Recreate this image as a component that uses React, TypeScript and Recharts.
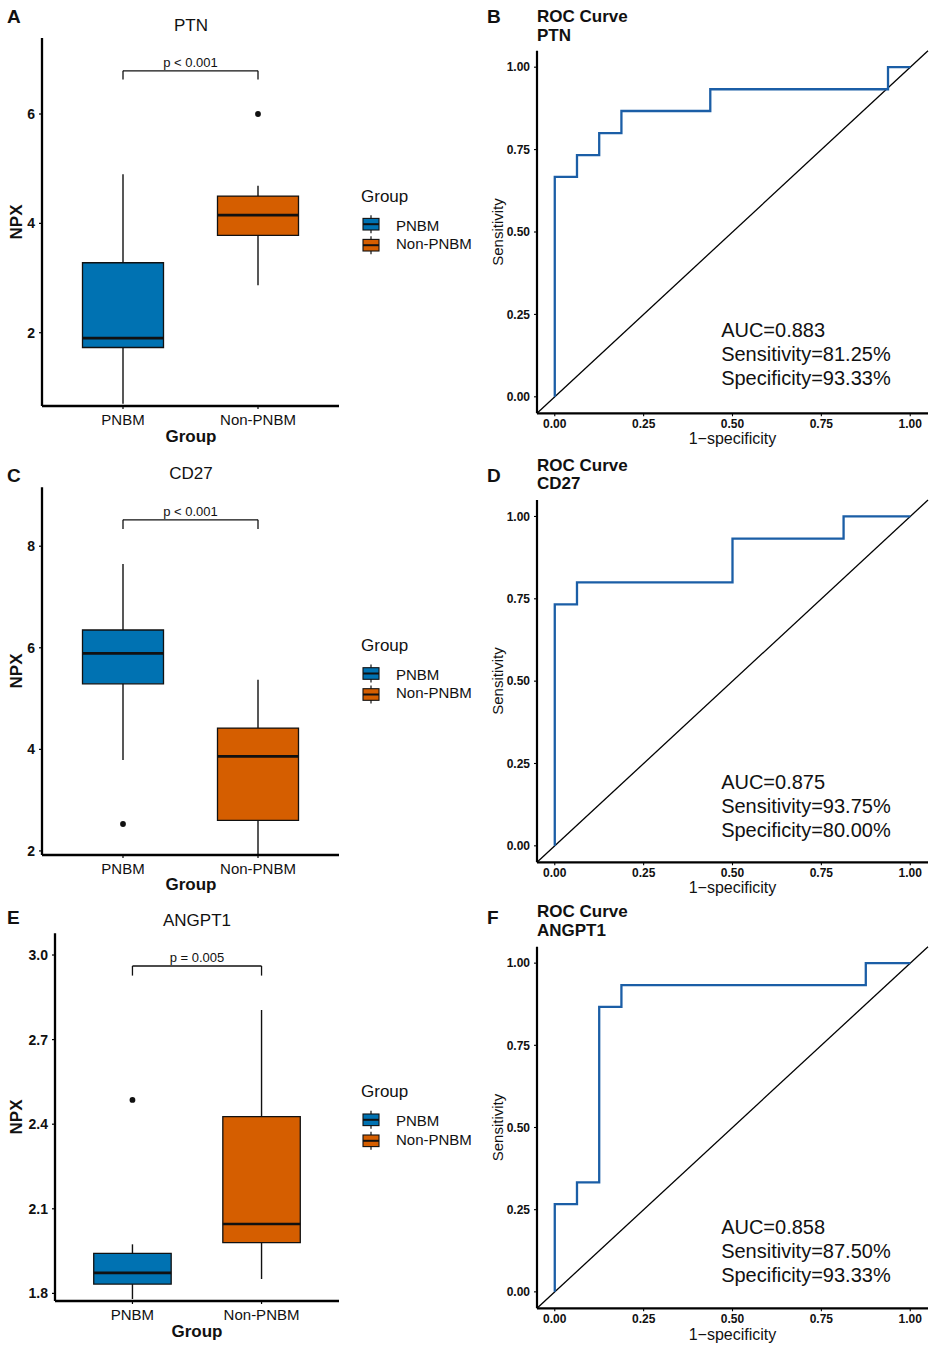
import React from 'react';
import {
  ComposedChart,
  XAxis,
  YAxis,
  Scatter,
  Line,
  ReferenceArea,
  ReferenceLine,
  ReferenceDot,
} from 'recharts';

const FONT = '"Liberation Sans", Arial, Helvetica, sans-serif';
const BLUE = '#0072B2';
const ORANGE = '#D55E00';
const ROC_BLUE = '#1B5EA6';
const INK = '#111111';

// ---------- categories ----------
const groups = ['PNBM', 'Non-PNBM'];
const groupPos = [1, 2];

// ---------- box statistics: [min, q1, median, q3, max] ----------
const ptnPNBM = [0.7, 1.73, 1.9, 3.28, 4.9];
const ptnNon = [2.87, 3.78, 4.15, 4.5, 4.69];
const ptnOutliers = [{ x: 2, y: 6.0 }];
const ptnTicks = [2, 4, 6];

const cd27PNBM = [3.79, 5.29, 5.89, 6.35, 7.65];
const cd27Non = [1.93, 2.6, 3.86, 4.42, 5.37];
const cd27Outliers = [{ x: 1, y: 2.53 }];
const cd27Ticks = [2, 4, 6, 8];

const angPNBM = [1.78, 1.833, 1.873, 1.942, 1.974];
const angNon = [1.851, 1.98, 2.046, 2.427, 2.805];
const angOutliers = [{ x: 1, y: 2.486 }];
const angTicks = [1.8, 2.1, 2.4, 2.7, 3.0];

// ---------- ROC curves ----------
const ptnFpr = [0, 0, 0.0625, 0.0625, 0.125, 0.125, 0.1875, 0.1875, 0.4375, 0.4375, 0.9375, 0.9375, 1];
const ptnTpr = [0, 0.667, 0.667, 0.733, 0.733, 0.8, 0.8, 0.867, 0.867, 0.933, 0.933, 1, 1];

const cd27Fpr = [0, 0, 0.0625, 0.0625, 0.5, 0.5, 0.8125, 0.8125, 1];
const cd27Tpr = [0, 0.733, 0.733, 0.8, 0.8, 0.933, 0.933, 1, 1];

const angFpr = [0, 0, 0.0625, 0.0625, 0.125, 0.125, 0.1875, 0.1875, 0.875, 0.875, 1];
const angTpr = [0, 0.267, 0.267, 0.333, 0.333, 0.867, 0.867, 0.933, 0.933, 1, 1];

const rocTicks = [0, 0.25, 0.5, 0.75, 1];

const ptnAuc = ['AUC=0.883', 'Sensitivity=81.25%', 'Specificity=93.33%'];
const cd27Auc = ['AUC=0.875', 'Sensitivity=93.75%', 'Specificity=80.00%'];
const angAuc = ['AUC=0.858', 'Sensitivity=87.50%', 'Specificity=93.33%'];

const BOX_HALF = 0.3;

function boxElements(stats: number[], pos: number, fill: string, key: string) {
  const [mn, q1, md, q3, mx] = stats;
  return [
    <ReferenceLine
      key={key + 'wu'}
      segment={[{ x: pos, y: q3 }, { x: pos, y: mx }]}
      stroke={INK}
      strokeWidth={1.4}
      ifOverflow="visible"
    />,
    <ReferenceLine
      key={key + 'wl'}
      segment={[{ x: pos, y: mn }, { x: pos, y: q1 }]}
      stroke={INK}
      strokeWidth={1.4}
      ifOverflow="visible"
    />,
    <ReferenceArea
      key={key + 'box'}
      x1={pos - BOX_HALF}
      x2={pos + BOX_HALF}
      y1={q1}
      y2={q3}
      fill={fill}
      fillOpacity={1}
      stroke={INK}
      strokeWidth={1.3}
      ifOverflow="visible"
    />,
    <ReferenceLine
      key={key + 'med'}
      segment={[{ x: pos - BOX_HALF, y: md }, { x: pos + BOX_HALF, y: md }]}
      stroke={INK}
      strokeWidth={2.7}
      ifOverflow="visible"
    />,
  ];
}

function bracketElements(y: number, tip: number, label: string, key: string) {
  return [
    <ReferenceLine key={key + 'h'} segment={[{ x: 1, y }, { x: 2, y }]} stroke={INK} strokeWidth={1.3} ifOverflow="visible" />,
    <ReferenceLine key={key + 'l'} segment={[{ x: 1, y }, { x: 1, y: tip }]} stroke={INK} strokeWidth={1.3} ifOverflow="visible" />,
    <ReferenceLine key={key + 'r'} segment={[{ x: 2, y }, { x: 2, y: tip }]} stroke={INK} strokeWidth={1.3} ifOverflow="visible" />,
    <ReferenceDot
      key={key + 't'}
      x={1.5}
      y={y}
      r={0}
      fill="none"
      stroke="none"
      ifOverflow="visible"
      label={{ value: label, position: 'top', offset: 4, fontSize: 13, fill: INK, fontFamily: FONT }}
    />,
  ];
}

type BoxProps = {
  top: number;
  height: number;
  marginTop: number;
  yAxisWidth: number;
  xAxisHeight: number;
  pnbm: number[];
  non: number[];
  outliers: { x: number; y: number }[];
  domain: [number, number];
  ticks: number[];
  bracket: [number, number, string];
  id: string;
};

function BoxChart(p: BoxProps) {
  return (
    <div style={{ position: 'absolute', left: 0, top: p.top }}>
      <ComposedChart
        width={345}
        height={p.height}
        margin={{ top: p.marginTop, right: 6, bottom: 0, left: 0 }}
      >
        <XAxis
          type="number"
          dataKey="x"
          domain={[0.4, 2.6]}
          allowDataOverflow
          ticks={groupPos}
          interval={0}
          tickFormatter={(v: number) => groups[Math.round(v) - 1] ?? ''}
          height={p.xAxisHeight}
          tickSize={3}
          tickMargin={5}
          axisLine={{ stroke: '#000', strokeWidth: 2.3 }}
          tickLine={{ stroke: '#000', strokeWidth: 1.2 }}
          tick={{ fontSize: 15, fill: INK, fontFamily: FONT }}
        />
        <YAxis
          type="number"
          dataKey="y"
          domain={p.domain}
          allowDataOverflow
          ticks={p.ticks}
          interval={0}
          tickFormatter={(v: number) => (p.id === 'ang' ? v.toFixed(1) : String(v))}
          width={p.yAxisWidth}
          tickSize={3}
          tickMargin={4}
          axisLine={{ stroke: '#000', strokeWidth: 2.3 }}
          tickLine={{ stroke: '#000', strokeWidth: 1.2 }}
          tick={{ fontSize: 14, fontWeight: 'bold', fill: INK, fontFamily: FONT }}
        />
        {boxElements(p.pnbm, 1, BLUE, p.id + 'a')}
        {boxElements(p.non, 2, ORANGE, p.id + 'b')}
        {bracketElements(p.bracket[0], p.bracket[1], p.bracket[2], p.id + 'br')}
        <Scatter
          data={p.outliers}
          dataKey="y"
          isAnimationActive={false}
          shape={(s: any) => <circle cx={s.cx} cy={s.cy} r={2.9} fill={INK} />}
        />
      </ComposedChart>
    </div>
  );
}

type RocProps = {
  top: number;
  height: number;
  marginTop: number;
  xAxisHeight: number;
  fpr: number[];
  tpr: number[];
  auc: string[];
  aucY: number;
};

function RocChart(p: RocProps) {
  const data = p.fpr.map((f, i) => ({ fpr: f, tpr: p.tpr[i] }));
  const aucContent = (props: any) => {
    const vb = props.viewBox || {};
    const x = vb.x ?? 0;
    const y = vb.y ?? 0;
    return (
      <text x={x} y={y} fontSize={20} fill={INK} fontFamily={FONT}>
        {p.auc.map((l, i) => (
          <tspan key={i} x={x} dy={i === 0 ? 0 : 24}>
            {l}
          </tspan>
        ))}
      </text>
    );
  };
  return (
    <div style={{ position: 'absolute', left: 480, top: p.top }}>
      <ComposedChart
        width={455}
        height={p.height}
        data={data}
        margin={{ top: p.marginTop, right: 7, bottom: 0, left: 0 }}
      >
        <XAxis
          type="number"
          dataKey="fpr"
          domain={[-0.05, 1.05]}
          allowDataOverflow
          ticks={rocTicks}
          interval={0}
          tickFormatter={(v: number) => v.toFixed(2)}
          height={p.xAxisHeight}
          tickSize={3}
          tickMargin={3}
          axisLine={{ stroke: '#000', strokeWidth: 2.2 }}
          tickLine={{ stroke: '#000', strokeWidth: 1.1 }}
          tick={{ fontSize: 12, fontWeight: 'bold', fill: INK, fontFamily: FONT }}
        />
        <YAxis
          type="number"
          domain={[-0.05, 1.05]}
          allowDataOverflow
          ticks={rocTicks}
          interval={0}
          tickFormatter={(v: number) => v.toFixed(2)}
          width={57}
          tickSize={3}
          tickMargin={4}
          axisLine={{ stroke: '#000', strokeWidth: 2.2 }}
          tickLine={{ stroke: '#000', strokeWidth: 1.1 }}
          tick={{ fontSize: 12, fontWeight: 'bold', fill: INK, fontFamily: FONT }}
        />
        <ReferenceLine
          segment={[{ x: -0.05, y: -0.05 }, { x: 1.05, y: 1.05 }]}
          stroke="#000"
          strokeWidth={1.3}
          ifOverflow="visible"
        />
        <Line
          type="linear"
          dataKey="tpr"
          stroke={ROC_BLUE}
          strokeWidth={2.3}
          dot={false}
          activeDot={false}
          isAnimationActive={false}
        />
        <ReferenceDot
          x={0.468}
          y={p.aucY}
          r={0}
          fill="none"
          stroke="none"
          ifOverflow="visible"
          label={aucContent}
        />
      </ComposedChart>
    </div>
  );
}

function LegendBlock({ y }: { y: number }) {
  const keys = [
    { c: BLUE, label: groups[0], cy: y + 22.5, ly: y + 28.8 },
    { c: ORANGE, label: groups[1], cy: y + 43.5, ly: y + 47.2 },
  ];
  return (
    <g>
      <text x={361} y={y} fontSize={17} fill={INK} fontFamily={FONT}>
        Group
      </text>
      {keys.map((k) => (
        <g key={k.label}>
          <line x1={371} x2={371} y1={k.cy - 9} y2={k.cy + 9} stroke={INK} strokeWidth={1.2} />
          <rect x={363} y={k.cy - 5.8} width={16} height={11.6} fill={k.c} stroke={INK} strokeWidth={1.1} />
          <line x1={363} x2={379} y1={k.cy} y2={k.cy} stroke={INK} strokeWidth={2} />
          <text x={396} y={k.ly} fontSize={15} fill={INK} fontFamily={FONT}>
            {k.label}
          </text>
        </g>
      ))}
    </g>
  );
}

function Overlay() {
  const letter = (t: string, x: number, y: number) => (
    <text x={x} y={y} fontSize={19} fontWeight="bold" fill={INK} fontFamily={FONT}>
      {t}
    </text>
  );
  const boxTitle = (t: string, x: number, y: number) => (
    <text x={x} y={y} fontSize={17} textAnchor="middle" fill={INK} fontFamily={FONT}>
      {t}
    </text>
  );
  const boldMid = (t: string, x: number, y: number) => (
    <text x={x} y={y} fontSize={17} fontWeight="bold" textAnchor="middle" fill={INK} fontFamily={FONT}>
      {t}
    </text>
  );
  const npx = (cy: number) => (
    <text
      x={21.5}
      y={cy}
      transform={`rotate(-90 21.5 ${cy})`}
      fontSize={17}
      fontWeight="bold"
      textAnchor="middle"
      fill={INK}
      fontFamily={FONT}
    >
      NPX
    </text>
  );
  const rocTitle = (name: string, y1: number, y2: number) => (
    <g>
      <text x={537} y={y1} fontSize={17} fontWeight="bold" fill={INK} fontFamily={FONT}>
        ROC Curve
      </text>
      <text x={537} y={y2} fontSize={17} fontWeight="bold" fill={INK} fontFamily={FONT}>
        {name}
      </text>
    </g>
  );
  const xTitle = (y: number) => (
    <text x={732.5} y={y} fontSize={16} textAnchor="middle" fill={INK} fontFamily={FONT}>
      1−specificity
    </text>
  );
  const sens = (cy: number) => (
    <text
      x={503}
      y={cy}
      transform={`rotate(-90 503 ${cy})`}
      fontSize={15}
      textAnchor="middle"
      fill={INK}
      fontFamily={FONT}
    >
      Sensitivity
    </text>
  );
  return (
    <svg
      width={935}
      height={1349}
      style={{ position: 'absolute', left: 0, top: 0, pointerEvents: 'none' }}
    >
      {letter('A', 7, 23)}
      {letter('B', 487, 23)}
      {letter('C', 7, 481.7)}
      {letter('D', 487, 481.7)}
      {letter('E', 7, 924)}
      {letter('F', 487, 924)}

      {boxTitle('PTN', 191, 30.7)}
      {boxTitle('CD27', 191, 479.3)}
      {boxTitle('ANGPT1', 197, 926)}

      {boldMid('Group', 191, 441.7)}
      {boldMid('Group', 191, 890)}
      {boldMid('Group', 197, 1336.7)}

      {npx(222)}
      {npx(671)}
      {npx(1117)}

      <LegendBlock y={201.7} />
      <LegendBlock y={651} />
      <LegendBlock y={1097.3} />

      {rocTitle('PTN', 22, 40.7)}
      {rocTitle('CD27', 470.7, 489.3)}
      {rocTitle('ANGPT1', 917.3, 936)}

      {xTitle(444)}
      {xTitle(893)}
      {xTitle(1340)}

      {sens(232)}
      {sens(681)}
      {sens(1127.5)}
    </svg>
  );
}

export default function App() {
  return (
    <div
      style={{
        position: 'absolute',
        left: 0,
        top: 0,
        width: 935,
        height: 1349,
        background: '#ffffff',
        overflow: 'hidden',
        fontFamily: FONT,
      }}
    >
      <BoxChart
        id="ptn"
        top={0}
        height={450}
        marginTop={38}
        yAxisWidth={42}
        xAxisHeight={44}
        pnbm={ptnPNBM}
        non={ptnNon}
        outliers={ptnOutliers}
        domain={[0.66, 7.39]}
        ticks={ptnTicks}
        bracket={[6.79, 6.63, 'p < 0.001']}
      />
      <BoxChart
        id="cd27"
        top={450}
        height={450}
        marginTop={37.3}
        yAxisWidth={42}
        xAxisHeight={45}
        pnbm={cd27PNBM}
        non={cd27Non}
        outliers={cd27Outliers}
        domain={[1.92, 9.16]}
        ticks={cd27Ticks}
        bracket={[8.52, 8.34, 'p < 0.001']}
      />
      <BoxChart
        id="ang"
        top={900}
        height={449}
        marginTop={33.3}
        yAxisWidth={55}
        xAxisHeight={48}
        pnbm={angPNBM}
        non={angNon}
        outliers={angOutliers}
        domain={[1.773, 3.077]}
        ticks={angTicks}
        bracket={[2.961, 2.927, 'p = 0.005']}
      />
      <RocChart top={0} height={450} marginTop={50.7} xAxisHeight={36.7} fpr={ptnFpr} tpr={ptnTpr} auc={ptnAuc} aucY={0.18} />
      <RocChart top={450} height={450} marginTop={50} xAxisHeight={37.7} fpr={cd27Fpr} tpr={cd27Tpr} auc={cd27Auc} aucY={0.172} />
      <RocChart top={900} height={449} marginTop={46.7} xAxisHeight={40.7} fpr={angFpr} tpr={angTpr} auc={angAuc} aucY={0.176} />
      <Overlay />
    </div>
  );
}
